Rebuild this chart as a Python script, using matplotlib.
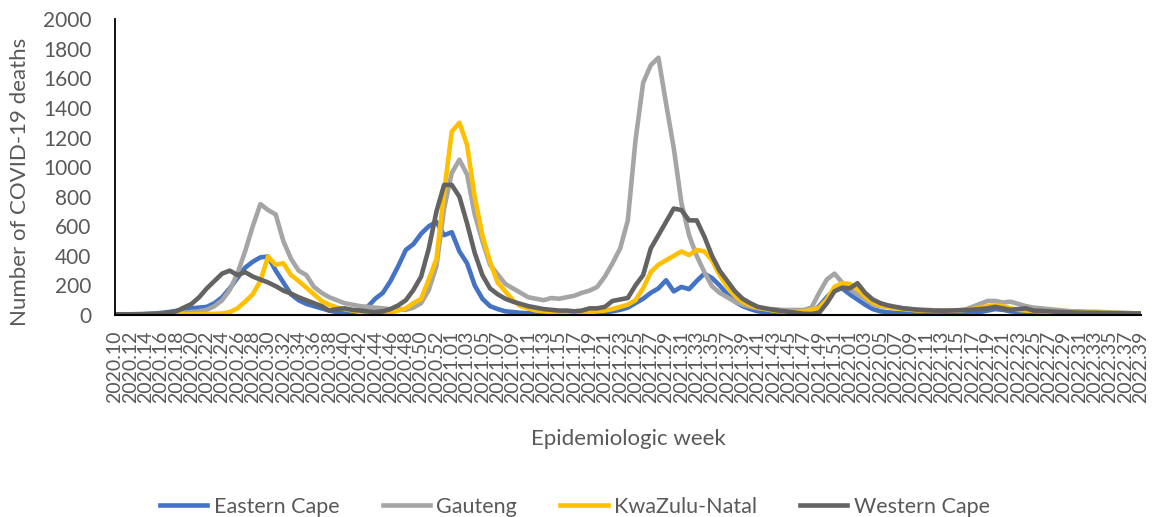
import numpy as np
import matplotlib
matplotlib.use("Agg")
import matplotlib.pyplot as plt

# epidemiologic weeks 2020.10 .. 2022.39 (2020 has 53 weeks)
weeks = ([f"2020.{w:02d}" for w in range(10, 54)]
         + [f"2021.{w:02d}" for w in range(1, 53)]
         + [f"2022.{w:02d}" for w in range(1, 40)])

eastern_cape = [
    2, 2, 3, 4, 6, 9, 14, 20, 28, 38,
    45, 50, 55, 80, 120, 180, 250, 320, 360, 390,
    395, 300, 220, 140, 100, 75, 60, 45, 30, 20,
    15, 20, 30, 55, 110, 150, 230, 330, 440, 480,
    550, 600, 630, 540, 560, 430, 350, 200, 110, 60,
    40, 25, 20, 15, 12, 10, 10, 8, 8, 8,
    8, 10, 12, 15, 20, 25, 35, 50, 80, 110,
    150, 180, 235, 160, 190, 175, 230, 280, 250, 200,
    140, 90, 60, 40, 25, 20, 15, 10, 8, 8,
    8, 15, 60, 120, 170, 180, 140, 105, 70, 40,
    25, 18, 14, 12, 10, 10, 8, 8, 8, 8,
    10, 12, 15, 20, 30, 40, 35, 25, 20, 15,
    12, 10, 8, 8, 6, 6, 5, 5, 5, 5,
    5, 5, 5, 4, 4,
]

gauteng = [
    3, 3, 3, 4, 5, 6, 8, 10, 12, 15,
    20, 25, 35, 60, 100, 170, 280, 430, 600, 750,
    710, 680, 500, 380, 300, 270, 190, 150, 120, 100,
    80, 70, 60, 55, 50, 45, 40, 38, 35, 50,
    80, 170, 330, 720, 960, 1050, 950, 680, 500, 340,
    275, 210, 180, 150, 120, 110, 100, 115, 110, 120,
    130, 150, 165, 190, 260, 350, 450, 640, 1180, 1570,
    1690, 1740, 1430, 1130, 760, 540, 400, 290, 195, 150,
    120, 90, 70, 55, 45, 40, 40, 35, 34, 34,
    34, 50, 150, 240, 280, 220, 175, 140, 110, 70,
    60, 55, 50, 45, 40, 35, 35, 32, 30, 30,
    29, 35, 55, 75, 95, 95, 85, 90, 75, 60,
    50, 45, 40, 35, 30, 25, 25, 22, 22, 20,
    18, 16, 15, 12, 10,
]

kwazulu_natal = [
    2, 2, 2, 2, 3, 3, 3, 4, 4, 5,
    5, 6, 7, 8, 10, 20, 45, 90, 140, 230,
    395, 340, 350, 270, 230, 185, 140, 95, 70, 50,
    40, 30, 25, 20, 15, 10, 15, 30, 45, 80,
    110, 240, 380, 830, 1240, 1300, 1150, 800, 540, 360,
    220, 160, 100, 60, 45, 30, 25, 20, 15, 15,
    10, 15, 20, 25, 30, 40, 55, 70, 100, 180,
    290, 340, 370, 400, 430, 405, 440, 430, 370, 270,
    190, 130, 90, 65, 50, 40, 30, 25, 20, 20,
    25, 34, 50, 105, 190, 215, 210, 180, 125, 85,
    65, 55, 45, 40, 35, 30, 30, 28, 28, 30,
    32, 34, 40, 50, 60, 65, 60, 45, 35, 30,
    28, 25, 22, 22, 20, 20, 18, 16, 15, 15,
    14, 13, 12, 11, 10,
]

western_cape = [
    5, 5, 5, 6, 7, 8, 10, 15, 25, 50,
    75, 120, 180, 230, 280, 300, 270, 290, 260, 240,
    220, 195, 165, 145, 120, 100, 80, 60, 30, 40,
    45, 35, 30, 25, 20, 25, 40, 65, 100, 170,
    260, 450, 700, 880, 880, 800, 620, 420, 270, 180,
    140, 110, 90, 75, 60, 50, 40, 35, 30, 30,
    25, 30, 45, 45, 55, 95, 105, 115, 200, 270,
    450, 540, 630, 720, 710, 640, 640, 530, 400, 300,
    230, 160, 110, 80, 55, 45, 35, 28, 22, 15,
    8, 7, 15, 80, 160, 185, 180, 215, 150, 105,
    80, 65, 55, 45, 40, 35, 32, 30, 29, 30,
    32, 34, 36, 40, 45, 55, 45, 35, 40, 45,
    30, 28, 25, 22, 20, 18, 16, 15, 14, 13,
    12, 12, 11, 11, 10,
]

series = [
    ("Eastern Cape", eastern_cape, "#4472C4"),
    ("Gauteng", gauteng, "#A5A5A5"),
    ("KwaZulu-Natal", kwazulu_natal, "#FFC000"),
    ("Western Cape", western_cape, "#636363"),
]

plt.rcParams["font.family"] = ["Lato", "DejaVu Sans"]
text_color = "#595959"

fig = plt.figure(figsize=(11.53, 5.17), dpi=100)
ax = fig.add_axes([0.0997, 0.3907, 0.8896, 0.572])

x = np.arange(len(weeks))
for name, vals, col in series:
    ax.plot(x, vals, color=col, lw=3.3, label=name, solid_joinstyle="round")

ax.set_xlim(0, len(weeks) - 1)
ax.set_ylim(0, 2000)
ax.set_yticks(range(0, 2001, 200))
ax.set_xticks(x[::2])
ax.set_xticklabels(weeks[::2], rotation=90, va="top", ha="center")

ax.tick_params(axis="y", length=0, pad=17, labelsize=15, labelcolor=text_color)
ax.tick_params(axis="x", length=0, pad=11, labelsize=14, labelcolor=text_color)

for s in ["top", "right"]:
    ax.spines[s].set_visible(False)
ax.spines["left"].set_linewidth(1.3)
ax.spines["bottom"].set_linewidth(1.5)
ax.spines["left"].set_color("black")
ax.spines["bottom"].set_color("black")

fig.text(0.0175, 0.648, "Number of COVID-19 deaths", rotation=90,
         ha="center", va="center", fontsize=16, color=text_color)
fig.text(0.545, 0.151, "Epidemiologic week", ha="center", va="center",
         fontsize=16, color=text_color)

fig.legend(loc="center", bbox_to_anchor=(0.4987, 0.02), ncol=4, frameon=False,
           fontsize=15.5, handlelength=2.2, handletextpad=0.3, columnspacing=2.0,
           labelcolor=text_color)

fig.savefig("out.png", dpi=100)
